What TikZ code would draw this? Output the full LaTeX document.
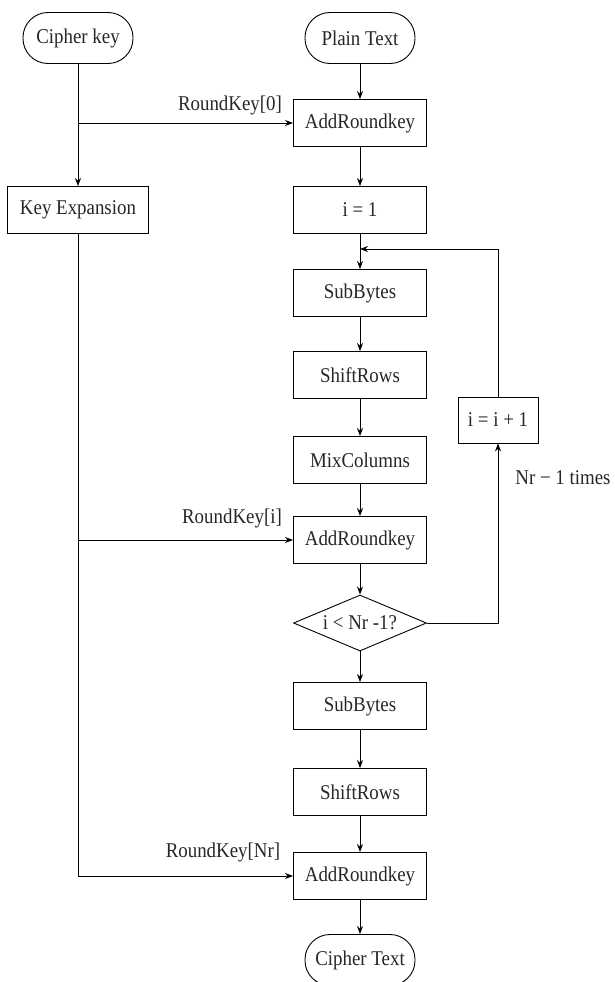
\documentclass[tikz,border=0pt]{standalone}
\usepackage{fontspec}
\setmainfont[FakeStretch=0.9]{Liberation Serif}
\usetikzlibrary{shapes.geometric,arrows.meta}
\begin{document}
\begin{tikzpicture}[x=1pt,y=-1pt,
  font=\fontsize{21}{24}\selectfont,
  every node/.style={text=black!85},
  boxnode/.style={draw,line width=0.9pt,minimum width=133pt,minimum height=47pt,inner sep=0pt},
  termnode/.style={draw,line width=0.9pt,rounded corners=25pt,minimum width=110pt,minimum height=51pt,inner sep=0pt},
  decnode/.style={draw,diamond,line width=0.9pt,aspect=2.3,inner sep=0pt,minimum width=133pt,minimum height=56pt},
  conn/.style={line width=0.9pt,-{Stealth[length=8pt,width=6pt]}},
  plain/.style={line width=0.9pt}]
\useasboundingbox (0,0) rectangle (614,982);
\node[termnode] (ck) at (78,38) {Cipher key};
\node[termnode] (pt) at (360,38) {Plain Text};
\node[boxnode] (ark1) at (360,123) {AddRoundkey};
\node[boxnode,minimum width=141pt] (ke) at (78,210) {Key Expansion};
\node[boxnode] (i1) at (360,210) {i = 1};
\node[boxnode] (sb1) at (360,293) {SubBytes};
\node[boxnode] (sr1) at (360,375) {ShiftRows};
\node[boxnode] (mc) at (360,460) {MixColumns};
\node[boxnode] (ark2) at (360,540) {AddRoundkey};
\node[decnode] (dec) at (360,623) {i < Nr -1?};
\node[boxnode] (sb2) at (360,706) {SubBytes};
\node[boxnode] (sr2) at (360,792) {ShiftRows};
\node[boxnode] (ark3) at (360,876) {AddRoundkey};
\node[termnode] (ct) at (360,960) {Cipher Text};
\node[boxnode,minimum width=80pt,minimum height=46pt] (inc) at (498,420) {i = i + 1};
\node (l0) at (230,105) {RoundKey[0]};
\node (li) at (232,518) {RoundKey[i]};
\node (lnr) at (223,852) {RoundKey[Nr]};
\node (lt) at (563,478) {Nr − 1 times};
\coordinate (j0) at (ck |- ark1);
\coordinate (j1) at (ke |- ark2);
\coordinate (j2) at (ke |- ark3);
\coordinate (lp) at (360,249);
\draw[conn] (ck) -- (ke);
\draw[conn] (j0) -- (ark1.west);
\draw[plain] (ke.south) -- (j2);
\draw[conn] (j2) -- (ark3.west);
\draw[conn] (j1) -- (ark2.west);
\draw[conn] (pt) -- (ark1);
\draw[conn] (ark1) -- (i1);
\draw[conn] (i1) -- (sb1);
\draw[conn] (sb1) -- (sr1);
\draw[conn] (sr1) -- (mc);
\draw[conn] (mc) -- (ark2);
\draw[conn] (ark2) -- (dec);
\draw[conn] (dec) -- (sb2);
\draw[conn] (sb2) -- (sr2);
\draw[conn] (sr2) -- (ark3);
\draw[conn] (ark3) -- (ct);
\draw[conn] (dec.east) -| (inc.south);
\draw[conn] (inc.north) |- (lp);
\end{tikzpicture}
\end{document}
